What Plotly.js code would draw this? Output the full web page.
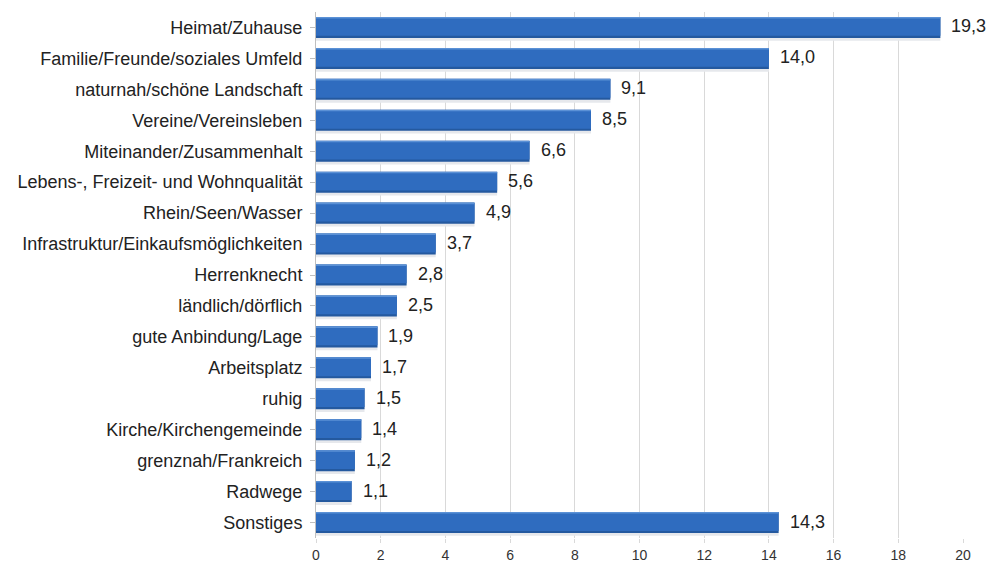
<!DOCTYPE html>
<html>
<head>
<meta charset="utf-8">
<script src="https://cdn.plot.ly/plotly-3.0.1.min.js"></script>
<style>html,body{margin:0;padding:0;background:#fff;}#chart{width:990px;height:563px;}</style>
</head>
<body>
<div id="chart"></div>
<script>
// Answers in percent, listed top to bottom
const categories = [
  "Heimat/Zuhause",
  "Familie/Freunde/soziales Umfeld",
  "naturnah/schöne Landschaft",
  "Vereine/Vereinsleben",
  "Miteinander/Zusammenhalt",
  "Lebens-, Freizeit- und Wohnqualität",
  "Rhein/Seen/Wasser",
  "Infrastruktur/Einkaufsmöglichkeiten",
  "Herrenknecht",
  "ländlich/dörflich",
  "gute Anbindung/Lage",
  "Arbeitsplatz",
  "ruhig",
  "Kirche/Kirchengemeinde",
  "grenznah/Frankreich",
  "Radwege",
  "Sonstiges"
];
const values = [19.3, 14.0, 9.1, 8.5, 6.6, 5.6, 4.9, 3.7, 2.8, 2.5, 1.9, 1.7, 1.5, 1.4, 1.2, 1.1, 14.3];
const xTicks = [0, 2, 4, 6, 8, 10, 12, 14, 16, 18, 20];

const FONT = "Liberation Sans, Arial, sans-serif";

// Bars are built in layers: soft shadow, dark base, lit body, top highlight
function layer(offset, width, color) {
  return {
    type: "bar",
    orientation: "h",
    y: categories,
    x: values,
    offset: offset,
    width: width,
    marker: { color: color, line: { width: 0 } },
    hoverinfo: "skip"
  };
}

const traces = [
  layer(-0.30, 0.73, "#e6e8ec"),
  layer(-0.34, 0.68, "#24599f"),
  layer(-0.33, 0.60, "#2f6cbf"),
  layer(-0.34, 0.05, "#5b91d6")
];

// Value labels beside each bar end
const annotations = values.map((v, i) => ({
  x: v,
  y: categories[i],
  xref: "x",
  yref: "y",
  text: v.toFixed(1).replace(".", ","),
  showarrow: false,
  xanchor: "left",
  yanchor: "middle",
  xshift: 9,
  yshift: 1,
  font: { family: FONT, size: 18, color: "#222" }
}));

const layout = {
  width: 990,
  height: 563,
  margin: { l: 316, r: 27, t: 12, b: 25 },
  paper_bgcolor: "#ffffff",
  plot_bgcolor: "#ffffff",
  showlegend: false,
  barmode: "overlay",
  font: { family: FONT, size: 18, color: "#222" },
  annotations: annotations,
  xaxis: {
    range: [0, 20],
    tickvals: xTicks,
    ticktext: xTicks.map(String),
    tickfont: { family: FONT, size: 14, color: "#333" },
    showgrid: true,
    gridcolor: "#d9d9d9",
    gridwidth: 1,
    zeroline: false,
    showline: false,
    ticks: "outside",
    ticklen: 4,
    tickcolor: "#d9d9d9",
    fixedrange: true
  },
  yaxis: {
    autorange: "reversed",
    tickfont: { family: FONT, size: 18, color: "#222" },
    showline: true,
    linecolor: "#bfbfbf",
    linewidth: 1,
    ticks: "outside",
    ticklen: 5,
    tickcolor: "#bfbfbf",
    ticklabelstandoff: 4,
    showgrid: false,
    fixedrange: true
  }
};

Plotly.newPlot("chart", traces, layout, { displayModeBar: false, staticPlot: true });
</script>
</body>
</html>
